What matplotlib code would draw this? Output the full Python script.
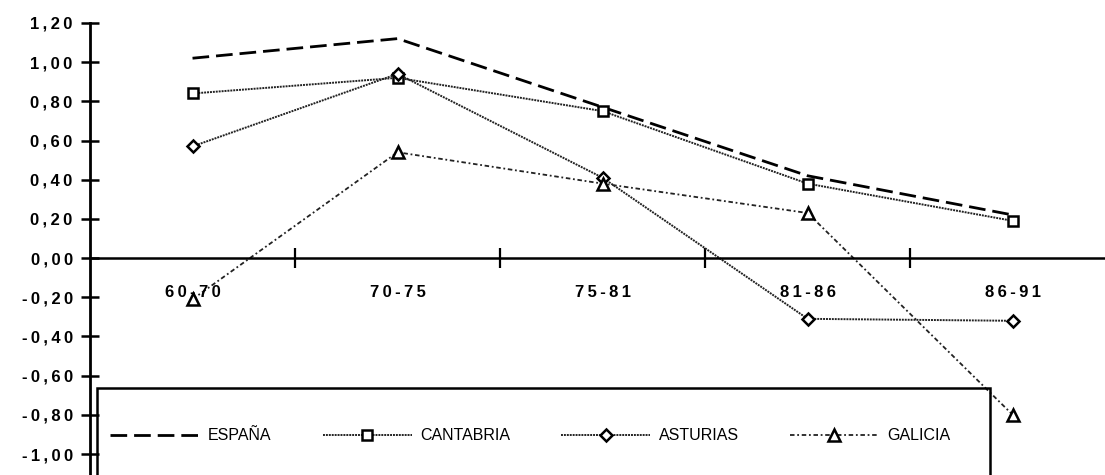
import matplotlib.pyplot as plt
from matplotlib.patches import Rectangle
import numpy as np

periods = ["60-70", "70-75", "75-81", "81-86", "86-91"]
espana = [1.02, 1.12, 0.77, 0.42, 0.22]
cantabria = [0.84, 0.92, 0.75, 0.38, 0.19]
asturias = [0.57, 0.94, 0.41, -0.31, -0.32]
galicia = [-0.21, 0.54, 0.38, 0.23, -0.80]

y_ticks = [1.2, 1.0, 0.8, 0.6, 0.4, 0.2, 0.0, -0.2, -0.4, -0.6, -0.8, -1.0]

label_font = ["Liberation Sans", "DejaVu Sans"]
legend_font = ["Liberation Sans Narrow", "Liberation Sans", "DejaVu Sans"]


def spaced(s):
    # wide letter spacing like the old typewriter-style labels
    return "\u2009".join(s)


fig = plt.figure(figsize=(11.05, 4.75), dpi=100)
ax = fig.add_axes([90 / 1105, 0, 1 - 90 / 1105, 455 / 475])

x = np.arange(len(periods))
ax.plot(x, espana, color="black", lw=2.0, ls=(0, (6, 2.5)), label="ESPAÑA")
ax.plot(x, cantabria, color="#222222", lw=1.4, ls=(0, (1, 0.5)),
        marker="s", ms=7, mfc="white", mec="black", mew=1.8, label="CANTABRIA")
ax.plot(x, asturias, color="#222222", lw=1.4, ls=(0, (1, 0.5)),
        marker="D", ms=6.5, mfc="white", mec="black", mew=1.8, label="ASTURIAS")
ax.plot(x, galicia, color="#222222", lw=1.3, ls=(0, (2.5, 1.5, 1, 1.5)),
        marker="^", ms=8, mfc="white", mec="black", mew=1.8, label="GALICIA")

ax.set_xlim(-0.5, 4.45)
ax.set_ylim(-1.107, 1.215)

# spines
for s in ["top", "right"]:
    ax.spines[s].set_visible(False)
ax.spines["left"].set_linewidth(2)
ax.spines["left"].set_bounds(-1.2, 1.2)
ax.spines["bottom"].set_position(("data", 0))
ax.spines["bottom"].set_linewidth(1.8)

ax.set_yticks(y_ticks)
ax.set_yticklabels([spaced(f"{v:.2f}".replace(".", ",")) for v in y_ticks],
                   family=label_font, fontweight="bold", fontsize=12)
ax.tick_params(axis="y", direction="inout", length=13, width=1.8, pad=6)

ax.set_xticks(x[:-1] + 0.5)
ax.set_xticklabels([])
ax.tick_params(axis="x", direction="inout", length=14, width=1.6)

for xi, p in zip(x, periods):
    ax.text(xi, -0.175, spaced(p), ha="center", va="center",
            family=label_font, fontweight="bold", fontsize=12)

# legend box reaching past the bottom edge
ax.add_patch(Rectangle((7 / 1015, -0.1), 0.88, 0.291, transform=ax.transAxes,
                       fill=False, lw=1.8, ec="black", clip_on=False, zorder=5))
leg = ax.legend(loc="center left", bbox_to_anchor=(0.006, 0.086), ncol=4,
                frameon=False, handlelength=5.6, handletextpad=0.5,
                columnspacing=3.2, prop={"family": legend_font, "size": 11.5})

fig.savefig("out.png", dpi=100)
